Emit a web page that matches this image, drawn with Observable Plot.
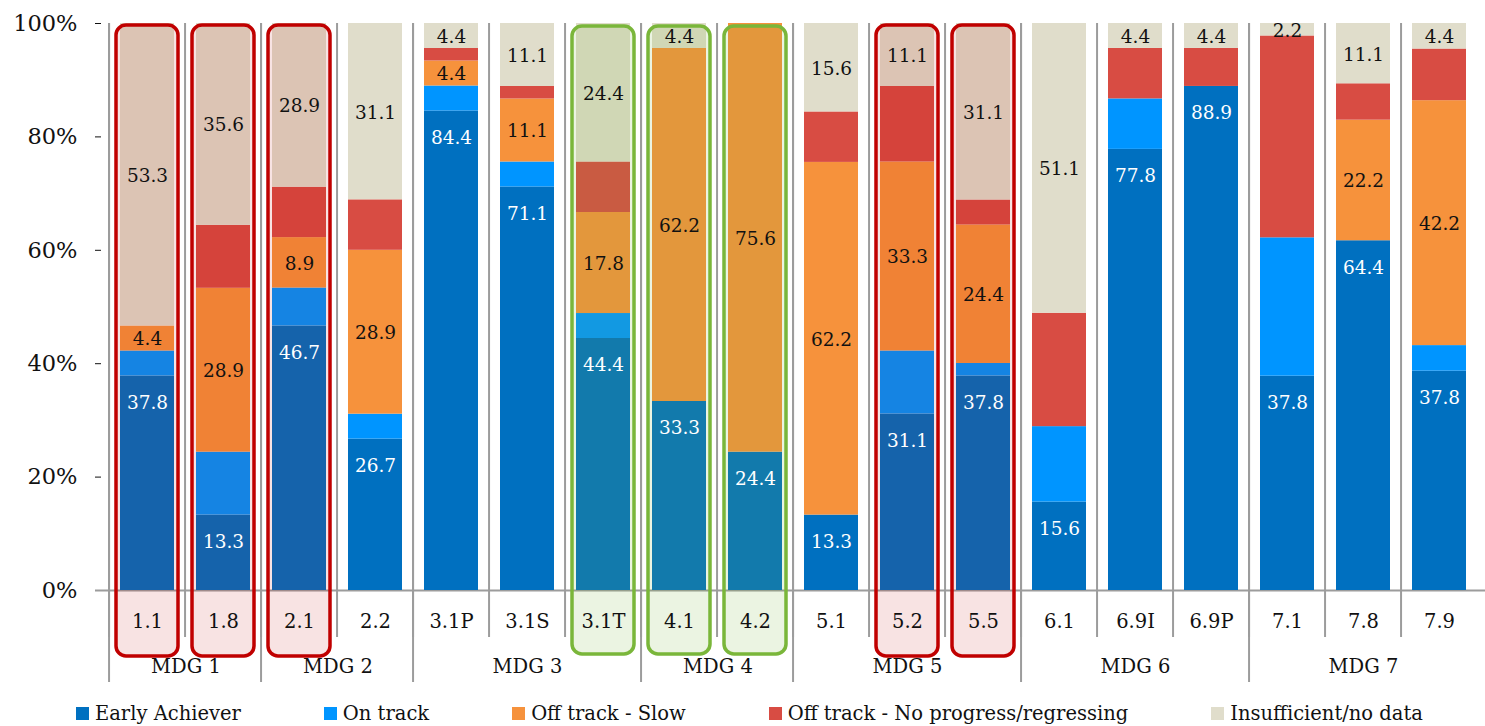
<!DOCTYPE html>
<html><head><meta charset="utf-8">
<script src="https://cdn.jsdelivr.net/npm/d3@7"></script>
<script src="https://cdn.jsdelivr.net/npm/@observablehq/plot@0.6"></script>
<style>
body{margin:0;background:#fff;font-family:"DejaVu Serif",serif;}
#legend{display:flex;gap:83px;padding-left:76px;height:30px;align-items:center;font-size:19.5px;color:#111;white-space:nowrap;margin-top:2px;}
.item{display:flex;align-items:center;gap:6px;}
.sw{width:13px;height:13px;display:inline-block;}
</style></head><body><div id="chart"></div><div id="legend"></div>
<script>
const categories = ["1.1","1.8","2.1","2.2","3.1P","3.1S","3.1T","4.1","4.2","5.1","5.2","5.5","6.1","6.9I","6.9P","7.1","7.8","7.9"];
const goals = ["MDG 1","MDG 1","MDG 2","MDG 2","MDG 3","MDG 3","MDG 3","MDG 4","MDG 4","MDG 5","MDG 5","MDG 5","MDG 6","MDG 6","MDG 6","MDG 7","MDG 7","MDG 7"];
const series = ["Early Achiever","On track","Off track - Slow","Off track - No progress/regressing","Insufficient/no data"];
const earlyAchiever      = [37.8,13.3,46.7,26.7,84.4,71.1,44.4,33.3,24.4,13.3,31.1,37.8,15.6,77.8,88.9,37.8,64.4,37.8];
const onTrack            = [4.4,11.1,6.7,4.4,4.4,4.4,4.4,0,0,0,11.1,2.2,13.3,8.9,0,24.4,0,4.4];
const offTrackSlow       = [4.4,28.9,8.9,28.9,4.4,11.1,17.8,62.2,75.6,62.2,33.3,24.4,0,0,0,0,22.2,42.2];
const offTrackNoProgress = [0,11.1,8.9,8.9,2.2,2.2,8.9,0,0,8.9,13.3,4.4,20.0,8.9,6.7,35.6,6.7,8.9];
const insufficient       = [53.3,35.6,28.9,31.1,4.4,11.1,24.4,4.4,0,15.6,11.1,31.1,51.1,4.4,4.4,2.2,11.1,4.4];
const redHighlight = ["1.1","1.8","2.1","5.2","5.5"];
const greenHighlight = ["3.1T","4.1","4.2"];
const seriesColors = ["#0070C0","#0095FF","#F6923C","#D84C43","#E0DDCB"];
const yTicks = [0,0.2,0.4,0.6,0.8,1];

const valuesBySeries = [earlyAchiever, onTrack, offTrackSlow, offTrackNoProgress, insufficient];
const rows = [];
categories.forEach((c, i) => {
  series.forEach((s, j) => rows.push({category: c, goal: goals[i], series: s, value: valuesBySeries[j][i]}));
});

const W = 1485, H = 696, mL = 101, mR = 0, mT = 23, mB = 106;
const step = (W - mL - mR) / categories.length;
const fmt = d3.format(".1f");

const groupNames = Array.from(new Set(goals));
const members = g => categories.filter((c, i) => goals[i] === g);
const oddGroups = groupNames.filter(g => members(g).length % 2 === 1);
const evenGroups = groupNames.filter(g => members(g).length % 2 === 0);
const groupStarts = groupNames.map(g => members(g)[0]);

const stackOpts = {x: "category", y: "value", z: "series", offset: "normalize", order: series};
const grid = "#9c9c9c";

const chart = Plot.plot({
  width: W, height: H,
  marginLeft: mL, marginRight: mR, marginTop: mT, marginBottom: mB,
  style: {fontFamily: "DejaVu Serif, serif", fontSize: "22.5px", color: "#111", background: "white", overflow: "visible"},
  x: {type: "band", domain: categories, paddingInner: 0.286, paddingOuter: 0.143, axis: null},
  y: {domain: [0, 1], ticks: yTicks, tickFormat: d3.format(".0%"), tickSize: 6, tickPadding: 18, label: null},
  color: {domain: series, range: seriesColors},
  marks: [
    Plot.ruleX(categories, {x: d => d, dx: -step / 2, stroke: grid, strokeWidth: 2, insetBottom: -47}),
    Plot.ruleX(groupStarts, {x: d => d, dx: -step / 2, stroke: grid, strokeWidth: 2, insetBottom: -92}),
    Plot.ruleY([0], {stroke: grid, strokeWidth: 2, insetLeft: -6}),
    Plot.barY(rows, Plot.stackY({...stackOpts, fill: "series"})),
    Plot.barY(redHighlight, {x: d => d, y1: 0, y2: 1, insetLeft: -4, insetRight: -4, insetTop: 2, insetBottom: -66, rx: 10,
      fill: "#C00000", fillOpacity: 0.11, stroke: "#C00000", strokeWidth: 3.5}),
    Plot.barY(greenHighlight, {x: d => d, y1: 0, y2: 1, insetLeft: -4, insetRight: -4, insetTop: 3, insetBottom: -64, rx: 10,
      fill: "#7AB63A", fillOpacity: 0.15, stroke: "#7AB63A", strokeWidth: 3.5}),
    Plot.text(rows, Plot.stackY2({...stackOpts, text: d => d.series === series[0] && d.value > 0 ? fmt(d.value) : "",
      fill: "white", dy: 27, fontSize: 18.5})),
    Plot.text(rows, Plot.stackY({...stackOpts, text: d => (d.series === series[2] || d.series === series[4]) && d.value > 0 ? fmt(d.value) : "",
      fill: "#111", fontSize: 18.5, dy: 1})),
    Plot.text(categories, {x: d => d, frameAnchor: "bottom", dy: 37, fontSize: 19.5, fill: "#111"}),
    Plot.text(oddGroups, {x: g => { const m = members(g); return m[(m.length - 1) / 2]; }, text: g => g, frameAnchor: "bottom", dy: 82, fontSize: 19.5, fill: "#111"}),
    Plot.text(evenGroups, {x: g => { const m = members(g); return m[m.length / 2 - 1]; }, text: g => g, dx: step / 2, frameAnchor: "bottom", dy: 82, fontSize: 19.5, fill: "#111"})
  ]
});
document.getElementById("chart").appendChild(chart);

const legend = d3.select("#legend");
series.forEach((s, i) => {
  const item = legend.append("div").attr("class", "item");
  item.append("span").attr("class", "sw").style("background", seriesColors[i]);
  item.append("span").text(s);
});
</script></body></html>
